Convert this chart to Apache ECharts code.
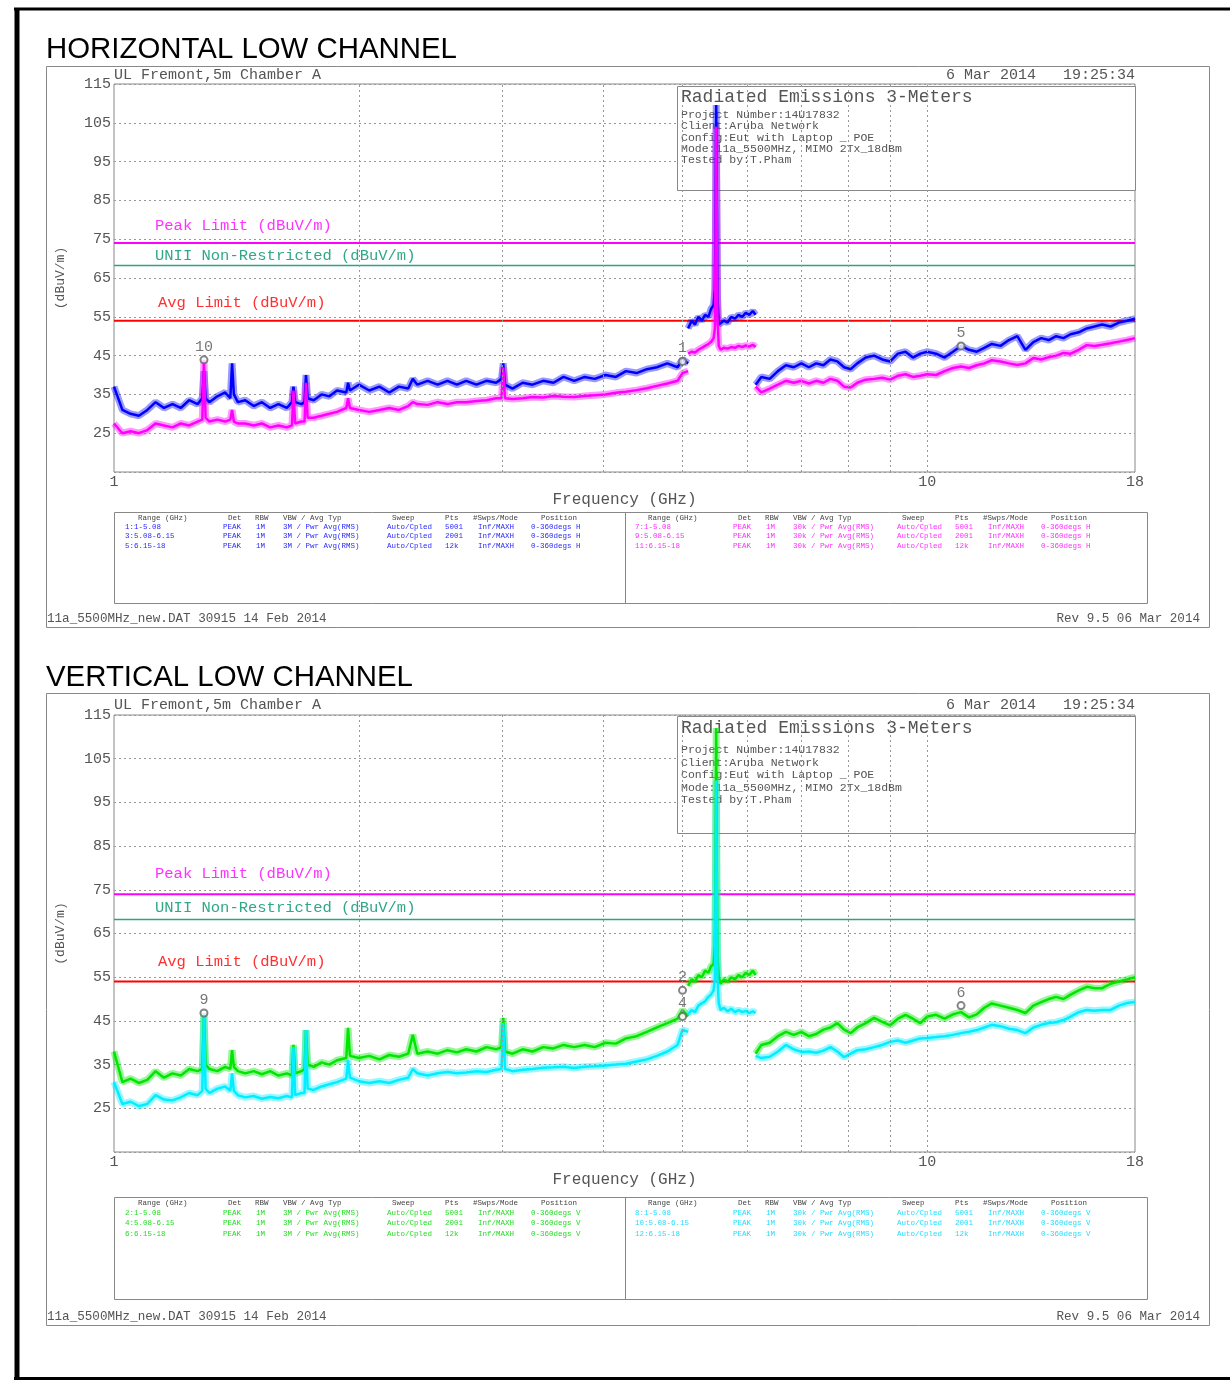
<!DOCTYPE html>
<html>
<head>
<meta charset="utf-8">
<title>Radiated Emissions 3-Meters</title>
<script src="https://cdn.jsdelivr.net/npm/echarts@6.0.0/dist/echarts.min.js"></script>
<style>
html,body{margin:0;padding:0;background:#fff;}
#main{width:1230px;height:1382px;}
</style>
</head>
<body>
<div id="main"></div>
<script>
// sweep frequencies (GHz), one list per range
var seg1F = [1.000,1.024,1.048,1.073,1.099,1.125,1.152,1.180,1.208,1.237,1.267,1.284,1.290,1.296,1.310,1.340,1.370,1.390,1.397,1.404,
  1.420,1.450,1.485,1.520,1.556,1.593,1.631,1.655,1.662,1.670,1.700,1.715,1.722,1.730,1.760,1.800,1.840,1.880,1.930,1.940,
  1.950,2.000,2.060,2.120,2.180,2.240,2.300,2.330,2.360,2.430,2.500,2.570,2.640,2.710,2.790,2.870,2.950,2.995,3.010,3.025,
  3.090,3.180,3.270,3.370,3.470,3.570,3.680,3.790,3.900,4.020,4.140,4.260,4.390,4.520,4.650,4.790,4.930,5.000,5.080];
var seg2F = [5.08,5.13,5.18,5.23,5.28,5.33,5.38,5.42,5.46,5.48,5.49,5.50,5.51,5.52,5.54,5.57,5.62,5.68,5.74,5.80,5.86,5.92,5.98,6.04,6.10,6.15];
var seg3F = [6.15,6.25,6.40,6.55,6.70,6.85,7.00,7.15,7.30,7.45,7.60,7.75,7.90,8.05,8.20,8.40,8.60,8.80,9.00,9.20,
  9.40,9.60,9.80,10.0,10.25,10.5,10.75,11.0,11.25,11.5,11.75,12.0,12.3,12.6,12.9,13.2,13.5,13.8,14.1,14.4,
  14.7,15.0,15.35,15.7,16.05,16.4,16.8,17.2,17.6,18.0];

// horizontal, peak (blue)
var hPeak1 = [37,31,30,29.5,31,33,31.5,32.5,31.5,33.5, 32.5,34,41,34,33,34.5,35.5,34,43,35,
  33,33.5,32,33,31.5,32.5,31.5,33,37,33, 32.5,33,40,34,33.5,35,34.5,36,35.5,38,
  36,37.5,36,37,35.5,37,36.5,39,37.5,38.5, 37.5,38.5,37.5,38.5,37.5,38.5,38,39,43,37.5,
  36.5,38,37.5,38.5,38,39.5,38.5,39.5,39,40, 39.5,41,40.5,41.5,42,43,42,44,43];
var hPeak2 = [52,54,53,55,54,55.5,55,57,58,62,80,109.6,85,60,53,52.5,54,53.5,55,54.5,55.5,55,56,55.5,56.5,55.5];
var hPeak3 = [37.5,39.5,39,41,42.5,42,43,42,43,42.5, 44,43.5,42,41.5,43,44.5,45,44,43.5,45.5,
  46,44.5,45.5,46,45.5,44.5,46,47.5,46.5,46, 47,48,47.5,49,50,46.5,48.5,49.5,49,50,
  49.5,50.5,51,52,52.5,53,52.5,53.5,54,54.5];
// horizontal, average (magenta)
var hAvg1 = [27.5,25,25.5,25,25.8,27.5,27,26.5,27.5,27, 28,28.5,43.9,29,28,28.5,28,28.5,31,28,
  27.5,27.5,27,27.5,26.5,27,26.5,27,36,27.5, 28,28,38,29,29,29.5,30,30.5,31.5,34,
  31.5,31,30.5,31,31.5,31,32,33,32.5,32.3, 33,32.5,33,33,33.3,33.5,34,34,42,34,
  33.8,34,34.3,34.2,34.6,34.4,34.3,34.6,34.8,35, 35.4,35.7,36.1,36.6,37.2,37.8,38.5,40.5,41];
var hAvg2 = [45.5,46,45.8,46.5,47,47.5,48,48.5,49.5,52,75,104,80,55,47.5,46.5,47,46.8,47.2,47,47.5,47.2,47.6,47.3,47.8,47.2];
var hAvg3 = [37,35.5,36.5,37.5,38.5,38,38.5,37.8,38.5,38, 39,38.5,37,36.8,38,38.8,39,39.3,38.8,39.8,
  40.2,39.5,39.8,40.2,40,41,41.8,42.2,41.8,42.5, 43,43.8,43.5,43,42.6,43,44.4,44,44.6,45,
  45.7,45.5,46.5,47.7,47.5,47.8,48.2,48.6,49,49.5];

// vertical, peak (green)
var vPeak1 = [38,31,31.8,30.8,31.5,33.5,32,33,32.5,34, 33.5,34,46.8,35,34,33.5,34.5,34,38.3,34.5,
  33.5,33,33.5,32.8,33.5,32.5,33,32.5,39.5,33, 33.5,34,42.9,35,34.5,35.5,35,36,36.5,43.4,
  37,36.5,37,36.2,37.2,36.8,37.5,41.8,37.5,38, 37.5,38.3,37.8,38.5,38,39,38.5,39,45.7,38,
  37.5,38.5,38,39,38.7,39.5,39,39.5,39,40, 39.8,41,41.5,42.5,43.5,44.5,45.5,47.5,46];
var vPeak2 = [53,54.5,54,55.5,55,56.5,56,57.5,58,62,80,112,78,60,55,53.5,54.5,54,55,54.5,55.5,55,56,55.5,56.5,55.5];
var vPeak3 = [37.5,39.5,40,41.5,42.5,41.8,42.5,41.5,42,43, 43.5,44.5,43,42.2,43.5,44.5,45.7,44.8,44,45.5,
  46.4,45.5,44.5,46,46.4,45.5,46.5,47,45.8,46.5, 48,49,48.5,48,47.5,46.8,48.5,49.3,50,50.5,
  50,51,52,52.8,52.5,52.5,53.5,54,54.5,55];
// vertical, average (cyan)
var vAvg1 = [31,26,26.5,25.5,26,28,27,26.8,27.5,28.5, 28,29,46.5,29.5,28.5,29.5,30,29,33,29,
  28,27.5,27.8,27.2,27.6,27.3,27.8,27.5,39,28, 28.5,28.5,42.9,29.5,29.2,30,30.5,31,31.8,36,
  32,31.2,30.8,31.2,30.8,31.5,32,34,33,32.5, 33,33.3,33,33.2,33.5,33.3,33.8,34,44.5,34,
  33.5,33.8,34,34.3,34.4,34.5,34.2,34.5,34.6,34.8, 35,35.2,35.7,36.2,37,38,39.5,43,42.5];
var vAvg2 = [46.5,47.5,47,48.5,49,49.5,50.5,51,52,55,75,100,75,55,49,47.5,48,47.2,47.8,47,47.5,47,47.3,46.8,47.2,46.8];
var vAvg3 = [37,36.5,36.8,38,39.5,38.5,37.9,38,37.7,38.2, 39,38,36.7,37.5,38.3,38.5,39,39.5,40.2,40.5,
  40,40.5,41,41.1,41.3,41.5,41.8,42.2,42.5,42.9, 43.5,44.1,43.8,43.2,42.9,42.2,43.5,44.1,44.5,44.7,
  45.2,46,47,47.5,47.3,47.5,47.5,48.5,49.1,49.3];

var peakLimit = 74, uniiLimit = 68.2, avgLimit = 54;
var gridFreqs = [2,3,4,5,6,7,8,9,10];
var hMarkers = [[1.29,43.9,'10'],[5.0,43.5,'1'],[11.0,47.5,'5']];
var vMarkers = [[1.29,46.8,'9'],[5.0,46,'4'],[5.0,52,'2'],[11.0,48.5,'6']];

var infoLines = ['Project Number:14U17832','Client:Aruba Network','Config:Eut with Laptop _ POE',
  'Mode:11a_5500MHz, MIMO 2Tx_18dBm','Tested by:T.Pham'];
var tableHead = ['Range (GHz)','Det','RBW','VBW / Avg Typ','Sweep','Pts','#Swps/Mode','Position'];
var ranges = ['1-5.08','5.08-6.15','6.15-18'];
var pts = ['5001','2001','12k'];

var MONO = '"Liberation Mono", "DejaVu Sans Mono", monospace';
var GREY = '#555';

// panel layout (pixels)
var panels = [
  {name:'HORIZONTAL LOW CHANNEL', titleY:50, boxTop:66, boxBot:627, top:84, h:388, headY:75,
   info:[86,190,97,115,11.3], limY:[226,256,303], tbl:[512,603,518,527,536.5,546], footY:619,
   peak:[hPeak1,hPeak2,hPeak3], avg:[hAvg1,hAvg2,hAvg3], pc:'#0000ff', ac:'#ff00ff',
   pt:'#2a2aff', at:'#ff30ff', traceIds:[[1,3,5],[7,9,11]], pol:'H', vbw:['3M','30k'], markers:hMarkers},
  {name:'VERTICAL LOW CHANNEL', titleY:678, boxTop:693, boxBot:1325, top:715, h:437, headY:705,
   info:[716,833,728,750,12.5], limY:[874,908,962], tbl:[1197,1299,1203,1213,1223.5,1234], footY:1317,
   peak:[vPeak1,vPeak2,vPeak3], avg:[vAvg1,vAvg2,vAvg3], pc:'#00e600', ac:'#00eeff',
   pt:'#22dd22', at:'#22ddff', traceIds:[[2,4,6],[8,10,12]], pol:'V', vbw:['3M','30k'], markers:vMarkers}
];

function txt(x, y, s, size, color, align, family, z) {
  return {type:'text', x:x, y:y, z:z || 5, silent:true,
    style:{text:s, font:size + 'px ' + (family || MONO), fill:color, textAlign:align || 'left', textVerticalAlign:'middle'}};
}
function ln(x1, y1, x2, y2, color, w, z) {
  return {type:'line', z:z || 5, silent:true, shape:{x1:x1,y1:y1,x2:x2,y2:y2}, style:{stroke:color, lineWidth:w}};
}
function box(x, y, w, h, z, fill) {
  return {type:'rect', z:z || 5, silent:true, shape:{x:x,y:y,width:w,height:h}, style:{fill:fill || 'none', stroke:'#888', lineWidth:1}};
}

var graphic = [];
// outer frame
graphic.push(ln(14, 9, 1230, 9, '#000', 3));
graphic.push(ln(17, 8, 17, 1380, '#000', 5));
graphic.push(ln(14, 1378.5, 1230, 1378.5, '#000', 3));

var grids = [], xAxes = [], yAxes = [], series = [];
var segF = [seg1F, seg2F, seg3F];
var headX = [138,228,255,283,392,445,473,541];
var rowX = [125,223,256,283,387,445,478,531];

panels.forEach(function (p, gi) {
  graphic.push(txt(46, p.titleY, p.name, 29.4, '#000', 'left', '"Liberation Sans", Arial, sans-serif'));
  graphic.push(box(46.5, p.boxTop + 0.5, 1163, p.boxBot - p.boxTop));
  graphic.push(txt(114, p.headY, 'UL Fremont,5m Chamber A', 15, GREY));
  graphic.push(txt(1135, p.headY, '6 Mar 2014   19:25:34', 15, GREY, 'right'));
  // info box
  graphic.push(box(677.5, p.info[0] + 0.5, 458, p.info[1] - p.info[0], 1, '#fff'));
  graphic.push(txt(681, p.info[2], 'Radiated Emissions 3-Meters', 18, GREY, 'left', null, 1));
  infoLines.forEach(function (s, i) {
    graphic.push(txt(681, p.info[3] + i * p.info[4], s, 11.5, GREY, 'left', null, 1));
  });
  // limit labels
  graphic.push(txt(155, p.limY[0], 'Peak Limit (dBuV/m)', 15.5, '#ff33ff'));
  graphic.push(txt(155, p.limY[1], 'UNII Non-Restricted (dBuV/m)', 15.5, '#30a888'));
  graphic.push(txt(158, p.limY[2], 'Avg Limit (dBuV/m)', 15.5, '#ff3030'));
  // settings table
  var t = p.tbl;
  graphic.push(box(114.5, t[0] + 0.5, 1033, t[1] - t[0]));
  graphic.push(ln(625.5, t[0], 625.5, t[1], '#888', 1));
  [0, 1].forEach(function (half) {
    var dx = half * 510;
    var col = half ? p.at : p.pt;
    tableHead.forEach(function (s, i) { graphic.push(txt(headX[i] + dx, t[2], s, 7.5, '#444')); });
    ranges.forEach(function (r, k) {
      var row = [p.traceIds[half][k] + ':' + r, 'PEAK', '1M', p.vbw[half] + ' / Pwr Avg(RMS)', 'Auto/Cpled', pts[k], 'Inf/MAXH', '0-360degs ' + p.pol];
      row.forEach(function (s, i) { graphic.push(txt(rowX[i] + dx, t[3 + k], s, 7.5, col)); });
    });
  });
  graphic.push(txt(47, p.footY, '11a_5500MHz_new.DAT 30915 14 Feb 2014', 12.6, GREY));
  graphic.push(txt(1200, p.footY, 'Rev 9.5 06 Mar 2014', 12.6, GREY, 'right'));

  grids.push({left:114, top:p.top, width:1021, height:p.h, show:true, borderColor:'#888', borderWidth:1, backgroundColor:'transparent'});
  xAxes.push({type:'log', logBase:10, gridIndex:gi, min:1, max:18,
    name:'Frequency (GHz)', nameLocation:'middle', nameGap:20,
    nameTextStyle:{fontFamily:MONO, fontSize:16, color:GREY},
    axisLine:{show:false}, axisTick:{show:false}, splitLine:{show:false},
    axisLabel:{fontFamily:MONO, fontSize:15, color:GREY, margin:3,
      formatter:function (v) { return String(Math.round(v)); }}});
  yAxes.push({type:'value', gridIndex:gi, min:15, max:115, interval:10,
    name:'(dBuV/m)', nameLocation:'middle', nameRotate:90, nameGap:47,
    nameTextStyle:{fontFamily:MONO, fontSize:13, color:GREY},
    axisLine:{show:false}, axisTick:{show:false},
    splitLine:{lineStyle:{color:'#999', type:[2,3], width:1}},
    axisLabel:{fontFamily:MONO, fontSize:15, color:GREY, margin:3,
      formatter:function (v) { return v === 15 ? '' : String(v); }}});

  // vertical frequency grid
  series.push({type:'line', xAxisIndex:gi, yAxisIndex:gi, data:[], z:0, silent:true,
    markLine:{silent:true, symbol:'none', animation:false, label:{show:false},
      lineStyle:{color:'#999', type:[2,3], width:1},
      data:gridFreqs.map(function (f) { return {xAxis:f}; })}});
  // limits
  [[peakLimit,'#ff00ff',2],[uniiLimit,'#2ea37f',1.5],[avgLimit,'#ff0000',2]].forEach(function (l) {
    series.push({type:'line', xAxisIndex:gi, yAxisIndex:gi, data:[[1,l[0]],[18,l[0]]], symbol:'none', silent:true, z:2,
      lineStyle:{color:l[1], width:l[2]}});
  });
  // traces: a soft wide band under a solid line, like the noisy sweep
  [[p.peak, p.pc], [p.avg, p.ac]].forEach(function (tr) {
    tr[0].forEach(function (vals, si) {
      var data = segF[si].map(function (f, i) { return [f, vals[i]]; });
      series.push({type:'line', xAxisIndex:gi, yAxisIndex:gi, data:data, symbol:'none', silent:true, z:3,
        lineStyle:{color:tr[1], width:7, opacity:0.4}});
      series.push({type:'line', xAxisIndex:gi, yAxisIndex:gi, data:data, symbol:'none', silent:true, z:4,
        lineStyle:{color:tr[1], width:2.5}});
    });
  });
  // markers
  series.push({type:'scatter', xAxisIndex:gi, yAxisIndex:gi, z:5, silent:true,
    symbol:'emptyCircle', symbolSize:7, itemStyle:{color:'#666', borderWidth:1},
    label:{show:true, position:'top', distance:1, fontFamily:MONO, fontSize:15, color:GREY,
      formatter:function (q) { return q.data[2]; }},
    data:p.markers});
});

var chart = echarts.init(document.getElementById('main'));
chart.setOption({
  animation:false,
  backgroundColor:'#fff',
  grid:grids,
  xAxis:xAxes,
  yAxis:yAxes,
  series:series,
  graphic:graphic
});
</script>
</body>
</html>
